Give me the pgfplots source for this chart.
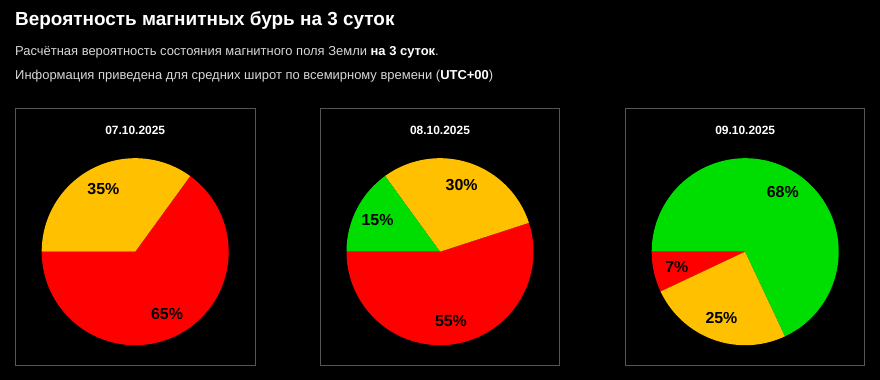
\documentclass[border=0pt]{standalone}
\usepackage{pgfplots}
\pgfplotsset{compat=1.18}
\usepackage{fontspec}
\setmainfont{Liberation Sans}
\definecolor{pred}{HTML}{FF0000}
\definecolor{pyel}{HTML}{FFC000}
\definecolor{pgrn}{HTML}{00DD00}
\definecolor{boxgray}{HTML}{555555}
\definecolor{subgray}{HTML}{D8D8D8}
\tikzset{lbl/.style={font=\fontsize{16}{18}\selectfont\bfseries, text=black, inner sep=0pt}}
\newcommand{\slice}[3]{%
 \pgfmathsetmacro\sa{180+3.6*#1}%
 \pgfmathsetmacro\sb{180+3.6*(#1+#2)}%
 \pgfmathsetmacro\lx{0.75*cos((\sa+\sb)/2)}%
 \pgfmathsetmacro\ly{0.75*sin((\sa+\sb)/2)}%
 \edef\doslice{\noexpand\addplot[fill=#3,draw=none,domain=\sa:\sb,samples=120] ({cos(x)},{sin(x)}) -- (axis cs:0,0) -- cycle;}%
 \doslice
 \edef\dolabel{\noexpand\node[lbl] at (axis cs:\lx,\ly) {#2\noexpand\%};}%
 \dolabel}
\pgfplotsset{pieaxis/.style={anchor=center, width=187bp, height=187bp, scale only axis, hide axis, clip=false, xmin=-1, xmax=1, ymin=-1, ymax=1}}
\begin{document}
\begin{tikzpicture}
\fill[black] (0,0) rectangle (880bp,380bp);
\node[anchor=base west, inner sep=0pt, text=white, font=\fontsize{19}{22}\selectfont\bfseries] at (15bp,354bp) {Вероятность магнитных бурь на 3 суток};
\node[anchor=base west, inner sep=0pt, text=subgray, font=\fontsize{13}{15}\selectfont] at (15bp,324.5bp) {Расчётная вероятность состояния магнитного поля Земли \textcolor{white}{\bfseries на 3 суток}.};
\node[anchor=base west, inner sep=0pt, text=subgray, font=\fontsize{13}{15}\selectfont] at (15bp,300.5bp) {Информация приведена для средних широт по всемирному времени (\textcolor{white}{\bfseries UTC+00})};
\draw[boxgray, line width=1bp] (15.5bp,271.7bp) rectangle (255bp,14bp);
\draw[boxgray, line width=1bp] (320.7bp,271.7bp) rectangle (559.3bp,14bp);
\draw[boxgray, line width=1bp] (625.7bp,271.7bp) rectangle (864.3bp,14bp);
\node[anchor=base, inner sep=0pt, text=white, font=\fontsize{12}{14}\selectfont\bfseries] at (135.2bp,245.3bp) {07.10.2025};
\node[anchor=base, inner sep=0pt, text=white, font=\fontsize{12}{14}\selectfont\bfseries] at (440bp,245.3bp) {08.10.2025};
\node[anchor=base, inner sep=0pt, text=white, font=\fontsize{12}{14}\selectfont\bfseries] at (745.2bp,245.3bp) {09.10.2025};
\begin{axis}[pieaxis, at={(135.2bp,128.3bp)}]
\slice{0}{65}{pred}
\slice{65}{35}{pyel}
\end{axis}
\begin{axis}[pieaxis, at={(440bp,128.3bp)}]
\slice{0}{55}{pred}
\slice{55}{30}{pyel}
\slice{85}{15}{pgrn}
\end{axis}
\begin{axis}[pieaxis, at={(745.2bp,128.3bp)}]
\slice{0}{7}{pred}
\slice{7}{25}{pyel}
\slice{32}{68}{pgrn}
\end{axis}
\end{tikzpicture}
\end{document}
